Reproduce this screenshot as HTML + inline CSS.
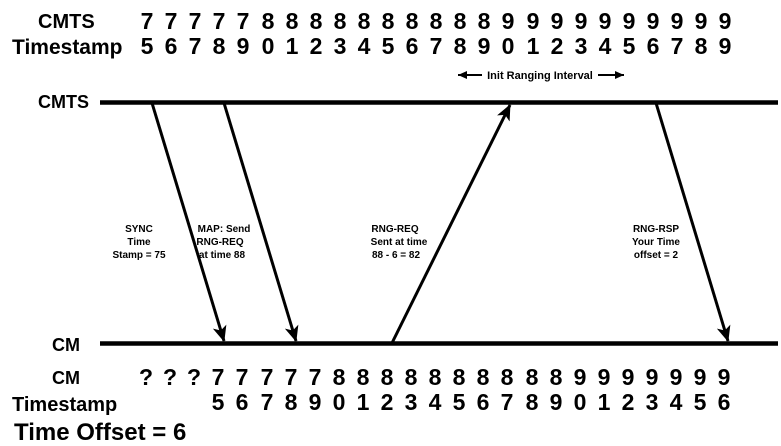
<!DOCTYPE html>
<html><head><meta charset="utf-8"><style>
html,body{margin:0;padding:0;background:#fff;}
svg{display:block;}
text{font-family:"Liberation Sans",Arial,sans-serif;font-weight:bold;fill:#000;}
</style></head><body>
<svg width="781" height="446" viewBox="0 0 781 446" xmlns="http://www.w3.org/2000/svg">
<defs>
<marker id="ah2" markerWidth="16" markerHeight="14" refX="15" refY="7" orient="auto" markerUnits="userSpaceOnUse">
<path d="M0,0 L16,7 L0,14 L4,7 Z" fill="#000"/>
</marker>
</defs>
<text x="38" y="28" font-size="20">CMTS</text>
<text x="12" y="54" font-size="21">Timestamp</text>
<g font-size="23" text-anchor="middle">
<text y="29" x="147 171 195 219 243 268 292 316 340 364 388 412 436 460 484 508 533 557 581 605 629 653 677 701 725">7777788888888889999999999</text>
<text y="54" x="147 171 195 219 243 268 292 316 340 364 388 412 436 460 484 508 533 557 581 605 629 653 677 701 725">5678901234567890123456789</text>
<text y="385" x="146 170 194 218 242 267 291 315 339 363 387 411 435 459 483 507 532 556 580 604 628 652 676 700 724">???7777788888888889999999</text>
<text y="410" x="218 242 267 291 315 339 363 387 411 435 459 483 507 532 556 580 604 628 652 676 700 724">5678901234567890123456</text>
</g>
<text x="38" y="108" font-size="18">CMTS</text>
<text x="52" y="351" font-size="18">CM</text>
<text x="52" y="384" font-size="18">CM</text>
<text x="12" y="411" font-size="20">Timestamp</text>
<text x="14" y="440" font-size="24">Time Offset = 6</text>

<line x1="100" y1="102.5" x2="778" y2="102.5" stroke="#000" stroke-width="4.5"/>
<line x1="100" y1="343.5" x2="778" y2="343.5" stroke="#000" stroke-width="4.5"/>

<line x1="152" y1="103" x2="224" y2="341" stroke="#000" stroke-width="3" marker-end="url(#ah2)"/>
<line x1="224" y1="103" x2="296" y2="341" stroke="#000" stroke-width="3" marker-end="url(#ah2)"/>
<line x1="392" y1="343" x2="510" y2="105" stroke="#000" stroke-width="3" marker-end="url(#ah2)"/>
<line x1="656" y1="103" x2="728" y2="341" stroke="#000" stroke-width="3" marker-end="url(#ah2)"/>

<line x1="458" y1="75" x2="482" y2="75" stroke="#000" stroke-width="2"/>
<path d="M458,75 L467,71 L467,79 Z"/>
<line x1="598" y1="75" x2="624" y2="75" stroke="#000" stroke-width="2"/>
<path d="M624,75 L615,71 L615,79 Z"/>
<text x="540" y="79" font-size="11" text-anchor="middle">Init Ranging Interval</text>

<g font-size="10" text-anchor="middle">
<text x="139" y="232">SYNC</text><text x="139" y="245">Time</text><text x="139" y="258">Stamp = 75</text>
<text x="224" y="232">MAP: Send</text><text x="220" y="245">RNG-REQ</text><text x="222" y="258">at time 88</text>
<text x="395" y="232">RNG-REQ</text><text x="399" y="245">Sent at time</text><text x="396" y="258">88 - 6 = 82</text>
<text x="656" y="232">RNG-RSP</text><text x="656" y="245">Your Time</text><text x="656" y="258">offset = 2</text>
</g>
</svg>
</body></html>
